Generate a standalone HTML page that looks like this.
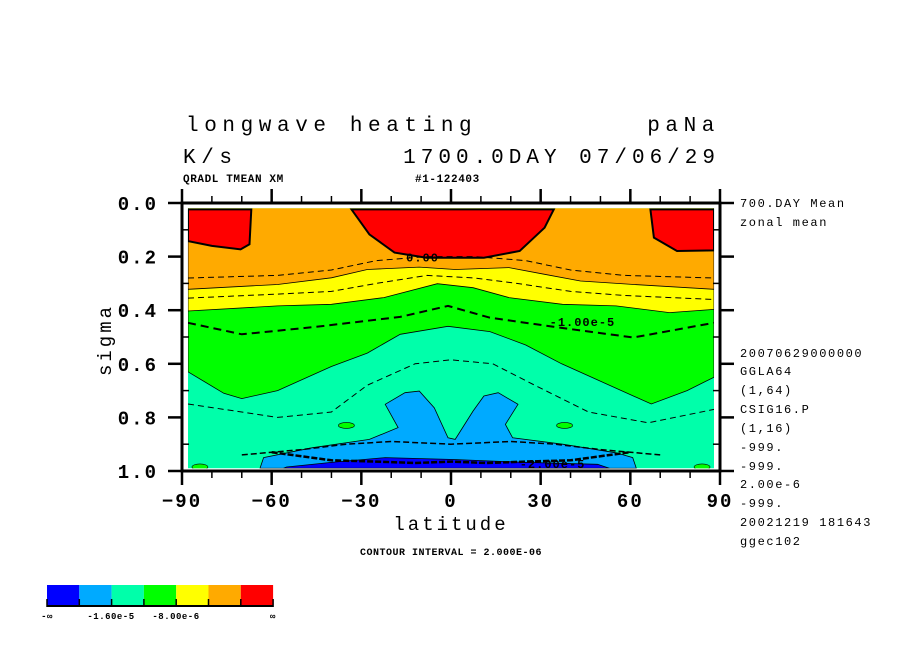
<!DOCTYPE html>
<html><head><meta charset="utf-8"><style>
body{margin:0;background:#fff}
svg{display:block}
text{font-family:"Liberation Mono",monospace;fill:#000}
</style></head><body>
<svg id="c" width="904" height="654" viewBox="0 0 904 654" xmlns="http://www.w3.org/2000/svg">
<g>
<text x="186" y="131" font-size="21" letter-spacing="5.6">longwave heating</text>
<text x="720" y="131" font-size="21" letter-spacing="5.6" text-anchor="end">paNa</text>
<text x="183" y="163" font-size="21" letter-spacing="5.6">K/s</text>
<text x="720" y="163" font-size="21" letter-spacing="5" text-anchor="end">1700.0DAY 07/06/29</text>
<text x="183" y="182" font-size="11" font-weight="bold" letter-spacing="0.6">QRADL TMEAN XM</text>
<text x="415" y="182" font-size="11" font-weight="bold" letter-spacing="0.6">#1-122403</text>
</g>
<g id="plot"></g>
<g id="axes"></g>
<g font-size="12">
<text x="740" y="207" font-size="12" letter-spacing="1.6">700.DAY Mean</text>
<text x="740" y="226" font-size="12" letter-spacing="1.6">zonal mean</text>
<text x="740" y="357" font-size="12" letter-spacing="1.6">20070629000000</text>
<text x="740" y="375" font-size="12" letter-spacing="1.6">GGLA64</text>
<text x="740" y="394" font-size="12" letter-spacing="1.6">(1,64)</text>
<text x="740" y="413" font-size="12" letter-spacing="1.6">CSIG16.P</text>
<text x="740" y="432" font-size="12" letter-spacing="1.6">(1,16)</text>
<text x="740" y="451" font-size="12" letter-spacing="1.6">-999.</text>
<text x="740" y="470" font-size="12" letter-spacing="1.6">-999.</text>
<text x="740" y="488" font-size="12" letter-spacing="1.6">2.00e-6</text>
<text x="740" y="507" font-size="12" letter-spacing="1.6">-999.</text>
<text x="740" y="526" font-size="12" letter-spacing="1.6">20021219 181643</text>
<text x="740" y="545" font-size="12" letter-spacing="1.6">ggec102</text>
</g>
<text x="451" y="555" font-size="10" font-weight="bold" text-anchor="middle" letter-spacing="0.5">CONTOUR INTERVAL = 2.000E-06</text>
<g id="cbar"></g>
</svg>
<script>
const NS="http://www.w3.org/2000/svg";
const xTicks=[-90,-60,-30,0,30,60,90];
const yTicks=[0.0,0.2,0.4,0.6,0.8,1.0];
const yTickLabels=["0.0","0.2","0.4","0.6","0.8","1.0"];
const bandColors=["#0000ff","#00aaff","#00ffaa","#00ff00","#ffff00","#ffaa00","#ff0000"];
const cbarLabels=["-\u221e","-1.60e-5","-8.00e-6","\u221e"];
const gcLat=[-88,-76,-70,-58,-40,-28,-17,-1,13,25,37,49,67,79,88];
const gcSig=[.63,.71,.73,.70,.61,.56,.49,.46,.48,.53,.60,.66,.75,.70,.65];
const ygLat=[-88,-58,-40,-22.5,-4.6,7.4,19.4,37.3,55.2,73.1,88];
const ygSig=[.403,.384,.378,.353,.301,.316,.353,.378,.384,.409,.397];
const oyLat=[-88,-58,-40,-28,-10.6,1.4,19.4,31.3,43.3,61.2,88];
const oySig=[.322,.304,.279,.248,.239,.248,.241,.266,.291,.304,.322];
const redLLat=[-88,-88,-80,-70.4,-67.4,-66.8];
const redLSig=[.024,.142,.16,.173,.154,.024];
const redCLat=[-33.3,-27.3,-18.9,-8.2,11,23,31.3,34.4];
const redCSig=[.024,.117,.185,.204,.204,.179,.092,.024];
const redRLat=[66.7,67.9,75.6,88,88];
const redRSig=[.024,.129,.179,.177,.024];
const lbLat=[-22,-15.4,-10.6,-5.6,-1,1.4,7.4,11,15.8,22.4,18.2,20.6,37.3,55.2,60.8,62,-63.9,-62.7,-46.3,-27.3,-17.7];
const lbSig=[.751,.708,.702,.764,.876,.882,.776,.72,.708,.751,.826,.876,.9,.932,.95,.99,.99,.95,.913,.882,.838];
const dbLat=[-55,-40,-22,1,25,49,53,-56];
const dbSig=[.985,.968,.95,.957,.968,.975,.99,.99];
const m1Lat=[-88,-70,-46,-17,-1,13,37,61,88];
const m1Sig=[.447,.49,.463,.425,.384,.428,.466,.502,.447];
const dashA_Lat=[-88,-58,-40,-25,-8,8,25,40,58,88];
const dashA_Sig=[.28,.27,.25,.215,.2,.2,.215,.25,.27,.28];
const dashB_Lat=[-88,-58,-40,-25,-8,8,22,40,58,88];
const dashB_Sig=[.355,.34,.33,.3,.27,.28,.3,.33,.345,.36];
const dashC_Lat=[-88,-58,-40,-28,-12,0,14,28,46,66,88];
const dashC_Sig=[.75,.8,.78,.68,.6,.585,.6,.68,.78,.82,.77];
const dashD_Lat=[-70,-50,-35,-20,0,20,35,50,70];
const dashD_Sig=[.94,.92,.9,.89,.9,.89,.9,.92,.94];

const X0=182,X1=720,Y0=203,Y1=471;
const sx=l=>X0+(l+90)/180*(X1-X0);
const sy=s=>Y0+s*(Y1-Y0);
const plot=document.getElementById('plot');
function mk(tag,attrs,parent){const e=document.createElementNS(NS,tag);for(const k in attrs)e.setAttribute(k,attrs[k]);parent.appendChild(e);return e;}
function pts(la,si){return la.map((l,i)=>sx(l).toFixed(1)+","+sy(si[i]).toFixed(1)).join(" ");}
const FL=-88,FR=88,FT=.02,FB=.99;
let clip=mk('clipPath',{id:'cl'},plot);
mk('rect',{x:sx(FL),y:sy(FT),width:sx(FR)-sx(FL),height:sy(FB)-sy(FT)},clip);
const g=mk('g',{'clip-path':'url(#cl)'},plot);
let bg=mk('rect',{x:sx(FL),y:sy(FT),width:sx(FR)-sx(FL),height:sy(FB)-sy(FT),fill:bandColors[2]},g);


function topBand(la,si,col,name){
  const p=pts(la,si)+" "+sx(FR)+","+sy(0)+" "+sx(FL)+","+sy(0);
  const e=mk('polygon',{points:p,fill:col,stroke:'#000','stroke-width':0.8},g);
  
  
}
topBand(gcLat,gcSig,bandColors[3],'band-green');
topBand(ygLat,ygSig,bandColors[4],'band-yellow');
topBand(oyLat,oySig,bandColors[5],'band-orange');
function poly(la,si,col,name,sw){
  const e=mk('polygon',{points:pts(la,si),fill:col,stroke:'#000','stroke-width':sw},g);
  
  
}
poly(redLLat,redLSig,bandColors[6],'band-red-left',2);
poly(redCLat,redCSig,bandColors[6],'band-red-center',2);
poly(redRLat,redRSig,bandColors[6],'band-red-right',2);
poly(lbLat,lbSig,bandColors[1],'band-lightblue',0.8);
poly(dbLat,dbSig,bandColors[0],'band-blue',0.8);
[[-35,.83],[38,.83],[-84,.985],[84,.985]].forEach((p,i)=>{
  const e=mk('ellipse',{cx:sx(p[0]),cy:sy(p[1]),rx:8,ry:3,fill:bandColors[3],stroke:'#000','stroke-width':0.6},g);
  
  
});
function line(la,si,w,dash,name){
  const e=mk('polyline',{points:pts(la,si),fill:'none',stroke:'#000','stroke-width':w,'stroke-dasharray':dash},g);
  
  
}
line(m1Lat,m1Sig,2,'8,5','contour-minus-1e-5');
line(dashA_Lat,dashA_Sig,1,'6,4','contour-dashed-a');
line(dashB_Lat,dashB_Sig,1,'6,4','contour-dashed-b');
line(dashC_Lat,dashC_Sig,1,'6,4','contour-dashed-c');
line(dashD_Lat,dashD_Sig,1.5,'6,3','contour-dashed-d');
line([-60,-40,-25,-12,0,12,25,40,60],[.93,.96,.965,.97,.965,.97,.965,.96,.93],2.5,'6,2','contour-dashed-bottom');
[['0.00',-15,.2],['-1.00e-5',33,.44],['-2.00e-5',23,.97]].forEach(t=>{
  const e=mk('text',{x:sx(t[1]),y:sy(t[2])+5,'font-size':12,'font-weight':'bold','letter-spacing':1},g);
  e.textContent=t[0];
  
  
});
const ax=document.getElementById('axes');
const fr=mk('rect',{x:X0,y:Y0,width:X1-X0,height:Y1-Y0,fill:'none',stroke:'#000','stroke-width':3},ax);


xTicks.forEach(t=>{
  mk('line',{x1:sx(t),x2:sx(t),y1:Y1,y2:Y1+14,stroke:'#000','stroke-width':2.5},ax);
  mk('line',{x1:sx(t),x2:sx(t),y1:Y0,y2:Y0-14,stroke:'#000','stroke-width':2.5},ax);
  const e=mk('text',{x:sx(t),y:Y1+36,'font-size':19,'font-weight':'bold','text-anchor':'middle','letter-spacing':2},ax);
  e.textContent=String(t).replace('-','\u2212');
  
  
});
for(let t=-80;t<=80;t+=10){if(t%30){mk('line',{x1:sx(t),x2:sx(t),y1:Y1,y2:Y1+7,stroke:'#000','stroke-width':1.5},ax);mk('line',{x1:sx(t),x2:sx(t),y1:Y0,y2:Y0-7,stroke:'#000','stroke-width':1.5},ax);}}
yTicks.forEach((t,i)=>{
  mk('line',{x1:X0-14,x2:X0,y1:sy(t),y2:sy(t),stroke:'#000','stroke-width':2.5},ax);
  mk('line',{x1:X1,x2:X1+14,y1:sy(t),y2:sy(t),stroke:'#000','stroke-width':2.5},ax);
  const e=mk('text',{x:158,y:sy(t)+7,'font-size':19,'font-weight':'bold','text-anchor':'end','letter-spacing':2},ax);
  e.textContent=yTickLabels[i];
  
  
});
for(let t=0.1;t<1;t+=0.2){mk('line',{x1:X0,x2:X0+7,y1:sy(t),y2:sy(t),stroke:'#000','stroke-width':1.5},ax);mk('line',{x1:X1-7,x2:X1,y1:sy(t),y2:sy(t),stroke:'#000','stroke-width':1.5},ax);}
let xl=mk('text',{x:451,y:530,'font-size':19,'text-anchor':'middle','letter-spacing':3},ax);
xl.textContent='latitude';


let yl=mk('text',{x:0,y:0,'font-size':19,'text-anchor':'middle','letter-spacing':3,transform:'translate(111,340) rotate(-90)'},ax);
yl.textContent='sigma';


const cb=document.getElementById('cbar');
const cw=32.3;
bandColors.forEach((c,i)=>{
  const e=mk('rect',{x:47+i*cw,y:585,width:cw,height:21,fill:c},cb);
  
  
  mk('line',{x1:47+i*cw,x2:47+i*cw,y1:599,y2:607,stroke:'#000','stroke-width':1.5},cb);
});
mk('line',{x1:47,x2:47+7*cw,y1:606,y2:606,stroke:'#000','stroke-width':2},cb);
mk('line',{x1:47+7*cw,x2:47+7*cw,y1:599,y2:607,stroke:'#000','stroke-width':1.5},cb);
const cbx=[47,111,176,273];
cbarLabels.forEach((t,i)=>{
  const e=mk('text',{x:cbx[i],y:619,'font-size':9,'font-weight':'bold','text-anchor':'middle','letter-spacing':0.5},cb);
  e.textContent=t;
  
  
});
</script>
</body></html>
